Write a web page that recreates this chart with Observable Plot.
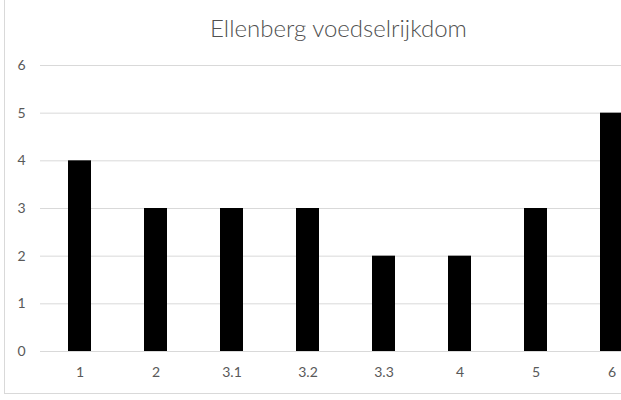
<!DOCTYPE html>
<html>
<head>
<meta charset="utf-8">
<script src="https://cdn.jsdelivr.net/npm/d3@7"></script>
<script src="https://cdn.jsdelivr.net/npm/@observablehq/plot@0.6"></script>
<style>
  html, body { margin: 0; padding: 0; background: #fff; }
  #frame {
    position: relative;
    width: 621px;
    height: 400px;
    overflow: hidden;
    font-family: Lato, "Open Sans", sans-serif;
  }
  #border {
    position: absolute;
    left: 4px; top: -2px;
    width: 700px; height: 396px;
    border-left: 1px solid #d9d9d9;
    border-bottom: 1px solid #d9d9d9;
    box-sizing: border-box;
  }
  #title {
    position: relative;
    height: 50px;
    line-height: 24px;
    padding-top: 16px;
    box-sizing: border-box;
    text-align: center;
    width: 677px;
    font-size: 24px;
    font-weight: 300;
    color: #505050;
    white-space: nowrap;
  }
  #chart svg { display: block; }
</style>
</head>
<body>
<div id="frame">
  <div id="border"></div>
  <div id="title">Ellenberg voedselrijkdom</div>
  <div id="chart"></div>
</div>
<script>
// Ellenberg nutrient classes and the number of observations in each
const categories = ["1", "2", "3.1", "3.2", "3.3", "4", "5", "6"];
const counts = [4, 3, 3, 3, 2, 2, 3, 5];
const yTicks = [0, 1, 2, 3, 4, 5, 6];

const data = categories.map((c, i) => ({category: c, count: counts[i]}));

const chart = Plot.plot({
  width: 621,
  height: 350,
  marginLeft: 40,
  marginRight: 0,
  marginTop: 15,
  marginBottom: 49,
  style: {fontFamily: "Lato, 'Open Sans', sans-serif", fontSize: "14px", color: "#595959", background: "transparent"},
  x: {
    type: "band",
    domain: categories,
    range: [41, 651],
    paddingInner: 0.695,
    paddingOuter: 0.3475,
    label: null
  },
  y: {domain: [0, 6], label: null},
  marks: [
    Plot.gridY(yTicks, {stroke: "#d9d9d9", strokeOpacity: 1}),
    Plot.axisY(yTicks, {tickSize: 0, tickPadding: 15, fill: "#595959", fontSize: 14, label: null}),
    Plot.axisX({tickSize: 0, tickPadding: 16, fill: "#595959", fontSize: 14, label: null}),
    Plot.barY(data, {x: "category", y: "count", fill: "#000"})
  ]
});
document.getElementById("chart").appendChild(chart);
</script>
</body>
</html>
